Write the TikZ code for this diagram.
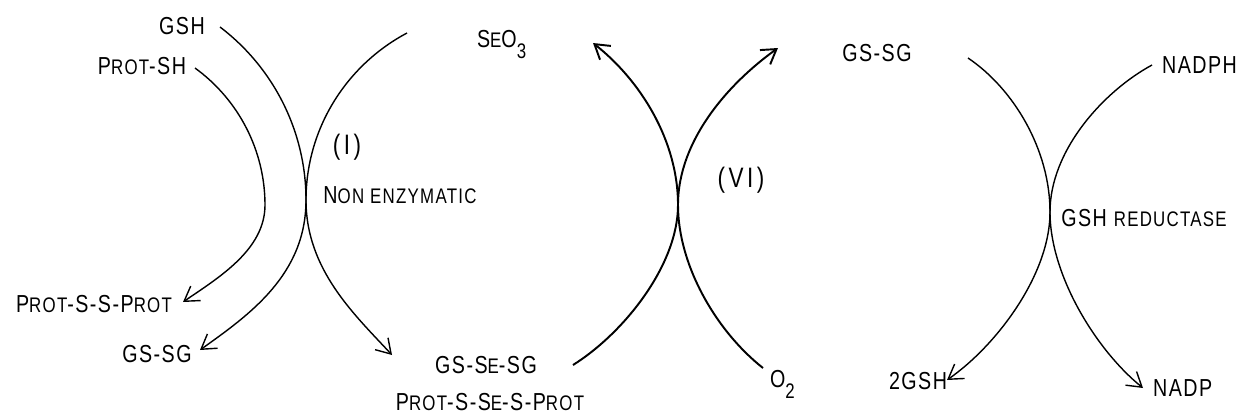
\documentclass[tikz,border=0pt]{standalone}
\usepackage{fontspec}
\setmainfont{Liberation Sans}[FakeStretch=0.8, LetterSpace=6]
\usetikzlibrary{arrows.meta}
\newcommand\smc[1]{{\fontsize{12}{13}\selectfont #1}}
\newcommand\lowsub[1]{\raisebox{-0.45em}{\smc{#1}}}

\begin{document}
\begin{tikzpicture}[x=0.02cm, y=-0.02cm, font=\fontsize{14}{15}\selectfont,
    >={Straight Barb[length=8pt,width=10pt]},
    lbl/.style={inner sep=1pt},
    paren/.style={lbl, font=\fontsize{16}{17}\selectfont},
    arc/.style={line width=0.8pt},
    tip/.style={arc, ->},
    tipb/.style={line width=1.1pt, ->}]
  \useasboundingbox (0,0) rectangle (1241,417);

  % labels
  \node[lbl] (gsh) at (182,26) {GSH};
  \node[lbl] (protsh) at (142,66) {P\smc{ROT}-SH};
  \node[lbl] (protssprot) at (94,304) {P\smc{ROT}-S-S-P\smc{ROT}};
  \node[lbl] (gssgL) at (157,354) {GS-SG};
  \node[paren] (nI) at (347,147) {(\hspace{2pt}I\hspace{2pt})};
  \node[lbl] (nonenz) at (400,195) {N\smc{ON ENZYMATIC}};
  \node[lbl, anchor=base west] (seo3) at (475,47) {S\smc{E}O\lowsub{3}};
  \node[lbl] (gssesg) at (486,365) {GS-S\smc{E}-SG};
  \node[lbl] (protssesprot) at (490,402) {P\smc{ROT}-S-S\smc{E}-S-P\smc{ROT}};
  \node[paren] (nVI) at (741,180) {(\hspace{2pt}V\hspace{2pt}I\hspace{2pt})};
  \node[lbl, anchor=base west] (o2) at (768,387) {O\lowsub{2}};
  \node[lbl] (gssgR) at (877,53) {GS-SG};
  \node[lbl, anchor=east] (nadph) at (1239,65) {NADPH};
  \node[lbl] (gshred) at (1144,218) {GSH \smc{REDUCTASE}};
  \node[lbl] (twogsh) at (918,381) {2GSH};
  \node[lbl, anchor=west] (nadp) at (1151,388) {NADP};

  % ends and touching points of the arcs
  \foreach \n/\x/\y in {gsh-o/220/27, prot-o/195/68, seo-o/407/33,
      pssp-i/183/302, gssgL-i/200/350, gsse-i/392/355, kI/306/200, kP/265/205,
      gsse-o/573/365, o2-o/763/368, seo-i/593/43, gssgR-i/778/48, kVI/678/205,
      gssgR-o/968/58, nadph-o/1152/65, twogsh-i/947/380, nadp-i/1143/388,
      kR/1050/212}
    \coordinate (\n) at (\x,\y);

  % (I)
  \draw[tip] (gsh-o) .. controls (274,68) and (306,132) .. (kI)
        .. controls (306,275) and (249,315) .. (gssgL-i);
  \draw[tip] (prot-o) .. controls (239,100) and (265,151) .. (kP)
        .. controls (265,250) and (218,278) .. (pssp-i);
  \draw[tip] (seo-o) .. controls (345,66) and (306,130) .. (kI)
        .. controls (306,270) and (355,315) .. (gsse-i);

  % (VI)
  \draw[tipb] (gsse-o) .. controls (624,333) and (678,265) .. (kVI)
        .. controls (678,140) and (640,80) .. (seo-i);
  \draw[tipb] (o2-o) .. controls (716,331) and (678,265) .. (kVI)
        .. controls (678,140) and (729,83) .. (gssgR-i);

  % GSH reductase
  \draw[tip] (gssgR-o) .. controls (1014,89) and (1050,150) .. (kR)
        .. controls (1050,275) and (996,346) .. (twogsh-i);
  \draw[tip] (nadph-o) .. controls (1104,91) and (1050,150) .. (kR)
        .. controls (1050,275) and (1096,350) .. (nadp-i);
\end{tikzpicture}
\end{document}
